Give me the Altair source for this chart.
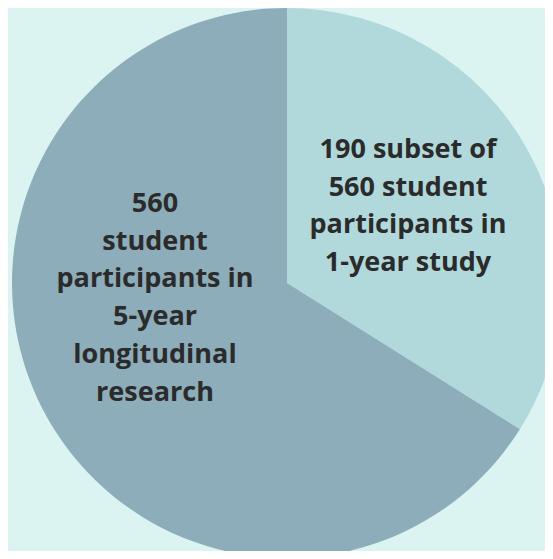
import altair as alt
import pandas as pd

categories = ["1-year study subset", "5-year longitudinal remainder"]
values = [190, 370]
labels = [
    "190 subset of\n560 student\nparticipants in\n1-year study",
    "560\nstudent\nparticipants in\n5-year\nlongitudinal\nresearch",
]
order = [1, 2]
colors = ["#B1D9DC", "#8CADB9"]

df = pd.DataFrame({"category": categories, "value": values, "label": labels, "order": order})

W, H = 537, 543
CX, CY, R = 279, 275, 275

pie = alt.Chart(df).mark_arc(radius=R, strokeWidth=0).encode(
    theta=alt.Theta("value:Q", stack=True),
    order=alt.Order("order:Q"),
    x=alt.value(CX),
    y=alt.value(CY),
    color=alt.Color("category:N", scale=alt.Scale(domain=categories, range=colors), legend=None),
)

text_kw = dict(
    font="Open Sans", fontWeight="bold", fontSize=27, color="#2B2B2B",
    lineBreak="\n", lineHeight=37.7, align="center", baseline="middle",
)

t1 = alt.Chart(df).transform_filter(alt.datum.order == 1).mark_text(**text_kw).encode(
    text="label:N", x=alt.value(400), y=alt.value(142)
)

t2 = alt.Chart(df).transform_filter(alt.datum.order == 2).mark_text(**text_kw).encode(
    text="label:N", x=alt.value(147), y=alt.value(196)
)

chart = alt.layer(pie, t1, t2).properties(
    width=W, height=H, autosize=alt.AutoSizeParams(type="none"), padding=0,
    background="#DBF4F2",
).configure_view(stroke=None)

chart.save("out.html", embed_options={"renderer": "svg", "actions": False})
